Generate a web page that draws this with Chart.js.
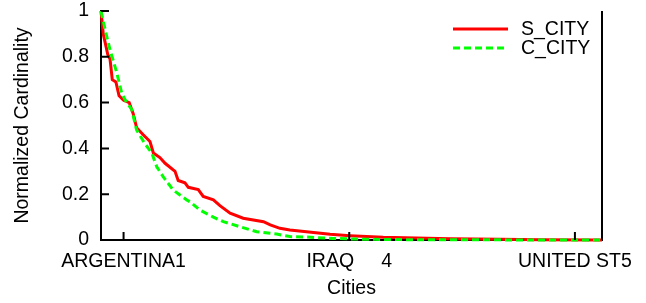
<!DOCTYPE html>
<html>
<head>
<meta charset="utf-8">
<script src="https://cdn.jsdelivr.net/npm/chart.js@4"></script>
<style>
  html, body { margin: 0; padding: 0; background: #fff; }
  #wrap { width: 646px; height: 303px; }
</style>
</head>
<body>
<div id="wrap"><canvas id="cardChart" width="646" height="303"></canvas></div>
<script>
// city rank positions on the x axis and the labelled ones
const tickIndex = [10, 110, 210];
const tickCities = ['ARGENTINA1', 'IRAQ     4', 'UNITED ST5'];
const cityCount = 222;

// S_CITY curve (rank, normalized cardinality)
const sCityRank = [0, 1, 3, 4, 5, 6.6, 8, 10, 12.5, 14.3, 15.8, 18.7, 21.7, 23.2, 26.1, 28.4, 32.8, 34.2,
  37.2, 38.7, 43.1, 45.3, 49.8, 52.7, 57.2, 63, 72, 75, 79.3, 83.7, 91, 101.5, 110.3, 125, 154.6, 177, 194.5, 222];
const sCityValue = [1.0, 0.90, 0.81, 0.79, 0.70, 0.69, 0.63, 0.61, 0.60, 0.55, 0.49, 0.46, 0.43, 0.38, 0.36, 0.335, 0.30, 0.26,
  0.25, 0.23, 0.22, 0.19, 0.175, 0.15, 0.117, 0.095, 0.08, 0.066, 0.051, 0.044, 0.036, 0.025, 0.019, 0.012, 0.006, 0.003, 0.001, 0];

// C_CITY curve
const cCityRank = [0, 2.5, 4, 7, 9.2, 11.4, 13.6, 15.8, 19.5, 22.5, 24.7, 27.6, 32, 38, 39.4, 43.9, 49.8, 54.2,
  61.6, 69, 77.8, 83.7, 91, 102.8, 117.9, 141, 222];
const cCityValue = [1.0, 0.89, 0.83, 0.73, 0.64, 0.60, 0.57, 0.48, 0.42, 0.38, 0.32, 0.276, 0.218, 0.175, 0.167, 0.13, 0.10, 0.08,
  0.058, 0.036, 0.026, 0.015, 0.013, 0.007, 0.003, 0.001, 0];

const FONT = { family: '"Liberation Sans", Arial, sans-serif', size: 19.5 };

function toPoints(xs, ys) {
    return xs.map((x, i) => ({ x: x, y: ys[i] }));
}

// frame on the right, inward tick marks and the in-plot legend
const framePlugin = {
    id: 'frame',
    afterDraw(chart) {
        const { ctx, chartArea: a, scales } = chart;
        ctx.save();
        ctx.strokeStyle = '#000';
        ctx.lineWidth = 2;
        ctx.beginPath();
        ctx.moveTo(a.right, a.top);
        ctx.lineTo(a.right, a.bottom);
        scales.y.ticks.forEach(t => {
            const py = scales.y.getPixelForValue(t.value);
            ctx.moveTo(a.left, py);
            ctx.lineTo(a.left + 8, py);
        });
        scales.x.ticks.forEach(t => {
            const px = scales.x.getPixelForValue(t.value);
            ctx.moveTo(px, a.bottom);
            ctx.lineTo(px, a.bottom - 8);
        });
        ctx.stroke();

        // legend
        const ds = chart.data.datasets;
        ctx.font = FONT.size + 'px ' + FONT.family;
        ctx.textBaseline = 'middle';
        ctx.textAlign = 'left';
        ds.forEach((d, i) => {
            const y = a.top + 18 + i * 19;
            ctx.beginPath();
            ctx.strokeStyle = d.borderColor;
            ctx.lineWidth = d.borderWidth;
            ctx.setLineDash(d.borderDash || []);
            ctx.moveTo(a.right - 149, y);
            ctx.lineTo(a.right - 94, y);
            ctx.stroke();
            ctx.setLineDash([]);
            ctx.fillStyle = '#000';
            ctx.fillText(d.label, a.right - 81, y + 1);
        });
        ctx.restore();
    }
};

function createChart() {
    const ctx = document.getElementById('cardChart').getContext('2d');
    new Chart(ctx, {
        type: 'line',
        data: {
            datasets: [{
                label: 'S_CITY',
                data: toPoints(sCityRank, sCityValue),
                borderColor: '#ff0000',
                borderWidth: 3,
                pointRadius: 0,
                tension: 0,
                clip: 4,
                order: 1
            }, {
                label: 'C_CITY',
                data: toPoints(cCityRank, cCityValue),
                borderColor: '#00ff00',
                borderWidth: 3,
                borderDash: [7, 4],
                pointRadius: 0,
                tension: 0,
                clip: 4,
                order: 0
            }]
        },
        options: {
            responsive: false,
            animation: false,
            layout: { padding: { top: 11, right: 44, left: 0, bottom: 0 } },
            plugins: {
                legend: { display: false },
                tooltip: { enabled: false }
            },
            scales: {
                x: {
                    type: 'linear',
                    min: 0,
                    max: cityCount,
                    afterBuildTicks: scale => {
                        scale.ticks = tickIndex.map(v => ({ value: v }));
                    },
                    afterFit: scale => {
                        scale.height = 63;
                        scale.paddingLeft = 0;
                        scale.paddingRight = 0;
                    },
                    ticks: {
                        autoSkip: false,
                        maxRotation: 0,
                        padding: 10,
                        color: '#000',
                        font: FONT,
                        callback: value => tickCities[tickIndex.indexOf(value)]
                    },
                    grid: { display: false, drawTicks: false },
                    border: { display: true, color: '#000', width: 2 },
                    title: {
                        display: true,
                        text: 'Cities',
                        color: '#000',
                        font: FONT,
                        padding: { top: 0, bottom: 3 }
                    }
                },
                y: {
                    min: 0,
                    max: 1,
                    afterFit: scale => {
                        scale.width = 101;
                        scale.paddingTop = 0;
                        scale.paddingBottom = 0;
                    },
                    ticks: {
                        stepSize: 0.2,
                        padding: 12,
                        color: '#000',
                        font: FONT,
                        callback: value => String(Math.round(value * 10) / 10)
                    },
                    grid: { display: false, drawTicks: false },
                    border: { display: true, color: '#000', width: 2 },
                    title: {
                        display: true,
                        text: 'Normalized Cardinality',
                        color: '#000',
                        font: FONT,
                        padding: { top: 11, bottom: 0 }
                    }
                }
            }
        },
        plugins: [framePlugin]
    });
}

document.addEventListener('DOMContentLoaded', createChart);
</script>
</body>
</html>
